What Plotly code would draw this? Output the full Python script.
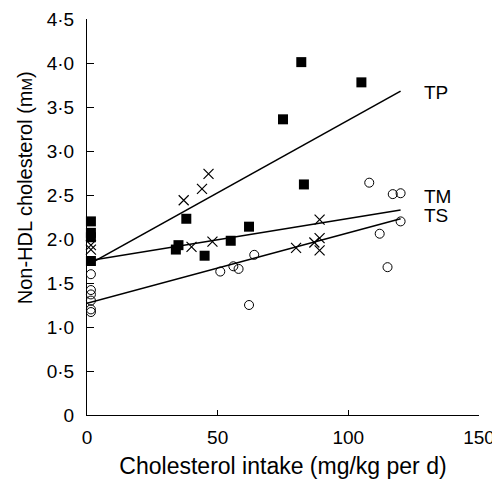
import plotly.graph_objects as go
import numpy as np

# TP group (filled squares)
tp_x = [1.5, 1.5, 1.5, 1.5, 34, 35, 38, 45, 55, 62, 75, 82, 83, 105]
tp_y = [2.2, 2.07, 2.02, 1.75, 1.88, 1.93, 2.23, 1.81, 1.98, 2.14, 3.36, 4.01, 2.62, 3.78]

# TM group (crosses)
tm_x = [1.5, 1.5, 37, 40, 44, 46.5, 48, 80, 87, 89, 89, 89]
tm_y = [1.93, 1.88, 2.44, 1.91, 2.57, 2.74, 1.97, 1.90, 1.96, 2.22, 2.01, 1.87]

# TS group (open circles)
ts_x = [1.5, 1.5, 1.5, 1.5, 1.5, 1.5, 51, 56, 58, 62, 64, 108, 112, 115, 117, 120, 120]
ts_y = [1.6, 1.42, 1.37, 1.3, 1.2, 1.17, 1.63, 1.69, 1.66, 1.25, 1.82, 2.64, 2.06, 1.68, 2.51, 2.52, 2.2]

# regression lines: intercept, slope
fits = {"TP": (1.70, 0.0165), "TM": (1.75, 0.00483), "TS": (1.27, 0.0080)}
label_y = {"TP": 3.67, "TM": 2.48, "TS": 2.27}
fit_x = np.array([0, 120])

y_ticks = [0, 0.5, 1, 1.5, 2, 2.5, 3, 3.5, 4, 4.5]
y_text = ["0", "0·5", "1·0", "1·5", "2·0", "2·5", "3·0", "3·5", "4·0", "4·5"]
x_ticks = [0, 50, 100, 150]

fig = go.Figure()

for name, (b0, b1) in fits.items():
    fig.add_trace(go.Scatter(x=fit_x, y=b0 + b1 * fit_x, mode="lines",
                             line=dict(color="black", width=1.6), showlegend=False))

fig.add_trace(go.Scatter(x=tp_x, y=tp_y, mode="markers", name="TP",
                         marker=dict(symbol="square", size=10, color="black")))
fig.add_trace(go.Scatter(x=tm_x, y=tm_y, mode="markers", name="TM",
                         marker=dict(symbol="x-thin-open", size=10, color="black",
                                     line=dict(color="black", width=1.2))))
fig.add_trace(go.Scatter(x=ts_x, y=ts_y, mode="markers", name="TS",
                         marker=dict(symbol="circle-open", size=9, color="black",
                                     line=dict(width=1))))

for name, yv in label_y.items():
    fig.add_annotation(x=128, y=yv, text=name, showarrow=False, xanchor="left",
                       font=dict(size=19, color="black"))

# y-axis title placed by hand (it sits a little below the plot centre in the original)
fig.add_annotation(xref="paper", yref="y", x=0, y=1.23, xshift=-62,
                   xanchor="center", yanchor="bottom", textangle=-90, showarrow=False,
                   text="Non-HDL cholesterol (m<span style='font-size:15px'>M</span>)",
                   font=dict(size=20, color="black"))

fig.update_traces(cliponaxis=False)

# page body has an 8px margin, so figure is 8px smaller and margins shifted
fig.update_layout(
    width=492, height=471,
    margin=dict(l=79, r=21, t=11, b=64),
    plot_bgcolor="white", paper_bgcolor="white",
    showlegend=False,
    font=dict(family="Liberation Sans, Arial, sans-serif", size=19, color="black"),
)
fig.update_xaxes(
    range=[0, 150], tickvals=x_ticks, showgrid=False, zeroline=False,
    showline=True, linecolor="black", linewidth=1, automargin=False,
    ticks="inside", ticklen=5, tickcolor="black", ticklabelstandoff=5,
    title=dict(text="Cholesterol intake (mg/kg per d)", standoff=16),
)
fig.update_yaxes(
    range=[0, 4.5], tickvals=y_ticks, ticktext=y_text, showgrid=False, zeroline=False,
    showline=True, linecolor="black", linewidth=1, automargin=False,
    ticks="inside", ticklen=7, tickcolor="black", ticklabelstandoff=8,
)

fig.write_html("out.html")
